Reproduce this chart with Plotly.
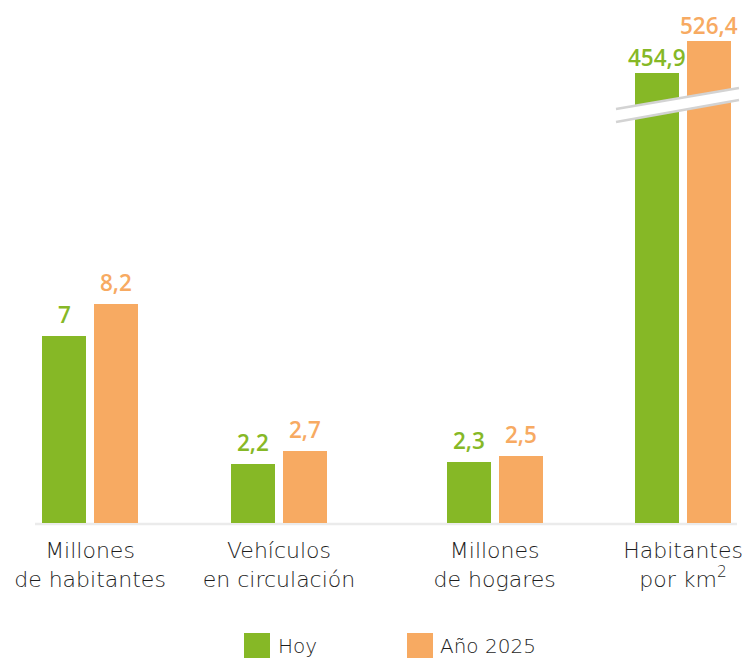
import plotly.graph_objects as go

# ---------------- data ----------------
categories = ["Millones<br>de habitantes", "Vehículos<br>en circulación",
              "Millones<br>de hogares", "Habitantes<br>por km<sup>2</sup>"]
series_names = ["Hoy", "Año 2025"]
hoy = [7, 2.2, 2.3, 454.9]
ano_2025 = [8.2, 2.7, 2.5, 526.4]
labels_hoy = ["7", "2,2", "2,3", "454,9"]
labels_2025 = ["8,2", "2,7", "2,5", "526,4"]

# ---------------- layout constants ----------------
W, H = 750, 659
M_T, M_B = 15, 136
PLOT_H = H - M_T - M_B
GROUP_POS = [0, 1, 2.141, 3.138]
UNIT = 189.0
BAR_W = 44 / UNIT
OFF = [-48 / UNIT, 4 / UNIT]
X_RANGE = [-90 / UNIT, 660 / UNIT]
Y_RANGE = [0, 19]
Y2_RANGE = [-551, 584]   # broken axis for the last group
GREEN = "#86b826"
ORANGE = "#f7aa62"
TEXT = "#1e1e1e"
FONT = "DejaVu Sans"
VAL_FONT = "Open Sans"
colors = [GREEN, ORANGE]
series = [hoy, ano_2025]
labels = [labels_hoy, labels_2025]


def px(x, y):
    """pixel -> paper coordinates"""
    return x / W, (H - M_B - y) / PLOT_H


fig = go.Figure()
for s in range(2):
    fig.add_trace(go.Bar(
        x=GROUP_POS[:3], y=series[s][:3], width=BAR_W, offset=OFF[s],
        marker=dict(color=colors[s], line=dict(width=0)),
        name=series_names[s], showlegend=False, yaxis="y", hoverinfo="y"))
    fig.add_trace(go.Bar(
        x=GROUP_POS[3:], y=[series[s][3] - Y2_RANGE[0]], base=Y2_RANGE[0],
        width=BAR_W, offset=OFF[s],
        marker=dict(color=colors[s], line=dict(width=0)),
        name=series_names[s], showlegend=False, yaxis="y2",
        customdata=[series[s][3]], hovertemplate="%{customdata}<extra></extra>"))

annotations = []
for s in range(2):
    for i in range(4):
        annotations.append(dict(
            x=GROUP_POS[i] + OFF[s] + BAR_W / 2, y=series[s][i],
            xref="x", yref="y" if i < 3 else "y2",
            text=labels[s][i], showarrow=False, yanchor="bottom",
            yshift=4 if i < 3 else -2,
            font=dict(family=VAL_FONT, size=22.5, color=colors[s], weight=600)))

shapes = []
bx0, by0 = px(35, 524)
bx1, _ = px(737, 524)
shapes.append(dict(type="line", xref="paper", yref="paper", x0=bx0, x1=bx1,
                   y0=by0, y1=by0, line=dict(color="#ebebeb", width=2.5),
                   layer="below"))
p1 = px(616, 109); p2 = px(739, 88); p3 = px(739, 100); p4 = px(616, 122)
shapes.append(dict(type="path", xref="paper", yref="paper",
                   path=f"M {p1[0]},{p1[1]} L {p2[0]},{p2[1]} L {p3[0]},{p3[1]} L {p4[0]},{p4[1]} Z",
                   fillcolor="white", line=dict(width=0), layer="above"))
for a, b in [(p1, p2), (p4, p3)]:
    shapes.append(dict(type="line", xref="paper", yref="paper",
                       x0=a[0], y0=a[1], x1=b[0], y1=b[1],
                       line=dict(color="#d3d3d3", width=2.5), layer="above"))

leg = [(244, 278), (407, 440)]
for s in range(2):
    sx0, sy0 = px(leg[s][0], 658)
    sx1, sy1 = px(leg[s][0] + 26, 633)
    shapes.append(dict(type="rect", xref="paper", yref="paper",
                       x0=sx0, x1=sx1, y0=sy0, y1=sy1,
                       fillcolor=colors[s], line=dict(width=0)))
    tx, ty = px(leg[s][1] - 2, 646)
    annotations.append(dict(x=tx, y=ty, xref="paper", yref="paper",
                            text=series_names[s], showarrow=False,
                            xanchor="left", yanchor="middle",
                            font=dict(family=FONT, size=20, color=TEXT, weight=200)))

fig.update_layout(
    width=W, height=H,
    margin=dict(l=0, r=0, t=M_T, b=M_B),
    paper_bgcolor="white", plot_bgcolor="white",
    bargap=0, showlegend=False,
    xaxis=dict(range=X_RANGE, tickmode="array", tickvals=GROUP_POS,
               ticktext=categories, showgrid=False, zeroline=False,
               showline=False, ticks="", ticklabelstandoff=12,
               tickfont=dict(family=FONT, size=22, color=TEXT, weight=200),
               fixedrange=True),
    yaxis=dict(range=Y_RANGE, visible=False, fixedrange=True),
    yaxis2=dict(range=Y2_RANGE, visible=False, overlaying="y", fixedrange=True),
    annotations=annotations, shapes=shapes,
)

fig.write_html("out.html", config={"displayModeBar": False},
               post_script="document.body.style.margin='0px';")
